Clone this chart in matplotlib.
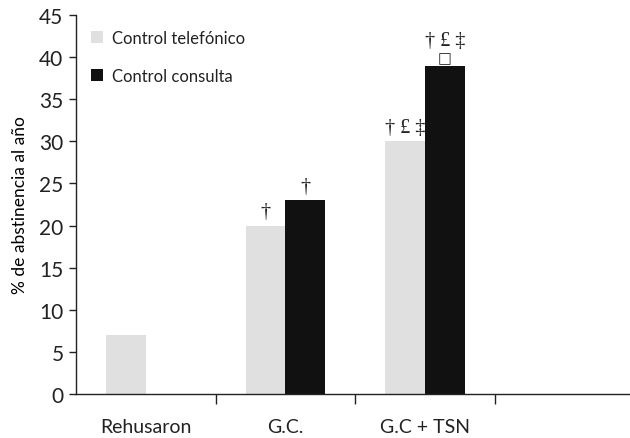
import matplotlib
matplotlib.use('Agg')
import matplotlib.pyplot as plt
import numpy as np

plt.rcParams['font.family'] = ['Lato', 'DejaVu Sans']
plt.rcParams['text.color'] = '#222222'
plt.rcParams['xtick.color'] = '#222222'
plt.rcParams['ytick.color'] = '#222222'

categories = ['Rehusaron', 'G.C.', 'G.C + TSN', '']
telefonico = [7, 20, 30, 0]
consulta = [0, 23, 39, 0]
series_names = ['Control telefónico', 'Control consulta']
marks_tel = ['', '†', '† £ ‡', '']
marks_con = ['', '†', '□', '']
marks_con_top = ['', '', '† £ ‡', '']

c_light = '#e0e0e0'
c_dark = '#111111'

fig = plt.figure(figsize=(6.30, 4.39), dpi=100)
ax = fig.add_axes([0.1206, 0.1002, 0.886, 0.8634])

x = np.arange(len(categories))
w = 0.285
ax.bar(x - w / 2, telefonico, w, color=c_light, label=series_names[0])
ax.bar(x + w / 2, consulta, w, color=c_dark, label=series_names[1])

sym_font = dict(family=['Liberation Serif', 'DejaVu Sans'], fontsize=14.5)
for i in range(len(categories)):
    if marks_tel[i]:
        ax.text(x[i] - w / 2, telefonico[i] + 0.5, marks_tel[i], ha='center', va='bottom', **sym_font)
    if marks_con[i]:
        if marks_con[i] == '□':
            ax.text(x[i] + w / 2, consulta[i] + 0.1, marks_con[i], ha='center', va='bottom',
                    family=['DejaVu Sans'], fontsize=10.5)
        else:
            ax.text(x[i] + w / 2, consulta[i] + 0.5, marks_con[i], ha='center', va='bottom', **sym_font)
    if marks_con_top[i]:
        ax.text(x[i] + w / 2, consulta[i] + 1.8, marks_con_top[i], ha='center', va='bottom', **sym_font)

ax.set_xlim(-0.5, len(categories) - 0.5)
ax.set_ylim(0, 45)
ax.set_yticks(np.arange(0, 46, 5))
ax.tick_params(axis='y', labelsize=15, length=5, width=1, direction='out', pad=4)

ax.set_xticks(x[:3])
ax.set_xticklabels(categories[:3], fontsize=14)
ax.tick_params(axis='x', which='major', length=0, pad=17)
ax.set_xticks(np.arange(0.5, len(categories) - 0.5, 1), minor=True)
ax.tick_params(axis='x', which='minor', length=7, width=1, direction='out')

ax.set_ylabel('% de abstinencia al año', fontsize=12.5, labelpad=8)

for s in ['top', 'right']:
    ax.spines[s].set_visible(False)
for s in ['left', 'bottom']:
    ax.spines[s].set_linewidth(1.0)
    ax.spines[s].set_color('#222222')

ax.legend(loc='upper left', bbox_to_anchor=(0.0, 1.0), frameon=False, fontsize=12,
          handlelength=0.75, handleheight=0.75, handletextpad=0.5, labelspacing=1.3)

fig.savefig('out.png', dpi=100)
